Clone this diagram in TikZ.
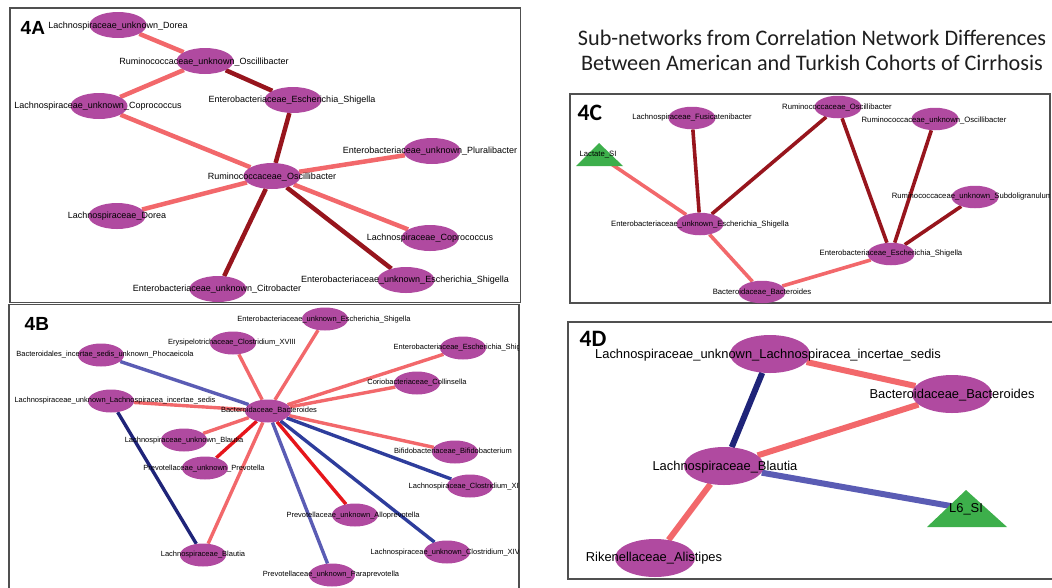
\documentclass[tikz,border=0pt]{standalone}
\usepackage{fontspec}
\setmainfont{Liberation Sans}
\newfontfamily\calibfont{Carlito}
\usetikzlibrary{shapes.geometric}
\pgfdeclarelayer{edges}
\pgfdeclarelayer{labels}
\pgfsetlayers{edges,main,labels}
\definecolor{nodepurple}{HTML}{B04AA0}
\definecolor{lightred}{HTML}{F2686B}
\definecolor{darkred}{HTML}{97151D}
\definecolor{brightred}{HTML}{E6161B}
\definecolor{navy}{HTML}{1F2479}
\definecolor{blueE}{HTML}{2E3D9C}
\definecolor{lavender}{HTML}{5A5CB4}
\definecolor{trigreen}{HTML}{3DAF4B}
\definecolor{framegray}{HTML}{505050}
\definecolor{titlegray}{HTML}{1E1E1E}
\begin{document}
\begin{tikzpicture}[x=1pt,y=-1pt,
  elA/.style={ellipse,fill=nodepurple,inner sep=0pt,minimum width=57pt,minimum height=26pt},
  elB/.style={ellipse,fill=nodepurple,inner sep=0pt,minimum width=46pt,minimum height=23pt},
  elC/.style={ellipse,fill=nodepurple,inner sep=0pt,minimum width=47pt,minimum height=22.5pt},
  elD/.style={ellipse,fill=nodepurple,inner sep=0pt,minimum width=80pt,minimum height=38pt},
  lbA/.style={font=\fontsize{9}{9}\selectfont,text=black,inner sep=0pt},
  lbB/.style={font=\fontsize{7.5}{7.5}\selectfont,text=black,inner sep=0pt},
  lbC/.style={font=\fontsize{7.7}{7.7}\selectfont,text=black,inner sep=0pt},
  lbD/.style={font=\fontsize{12.9}{12.9}\selectfont,text=black,inner sep=0pt},
  lbtri/.style={inner sep=1pt},
  eLR/.style={draw=lightred},
  eDR/.style={draw=darkred},
  eBR/.style={draw=brightred},
  eNV/.style={draw=navy},
  eBL/.style={draw=blueE},
  eLV/.style={draw=lavender},
  panel/.style={draw=framegray,line width=1.3pt},
  tagAB/.style={font=\bfseries\fontsize{19}{19}\selectfont,inner sep=0pt,anchor=west},
  tagCD/.style={font=\calibfont\bfseries\fontsize{23.5}{23.5}\selectfont,inner sep=0pt,anchor=west}
]
\useasboundingbox (0,0) rectangle (1052,587);

% ---------- frames ----------
\draw[panel] (10,8) rectangle (520.5,302.5);
\draw[panel] (9,592) -- (9,304.5) -- (519,304.5) -- (519,592);
\draw[panel] (570,94) rectangle (1050,303);
\draw[panel] (1056,322) -- (568,322) -- (568,579) -- (1056,579);

% ---------- title ----------
\node[font=\calibfont\fontsize{22.2}{25.5}\selectfont,align=center,text=titlegray] (title) at (812,50.5)
  {Sub-networks from Correlation Network Differences\\Between American and Turkish Cohorts of Cirrhosis};

% ---------- panel tags ----------
\node[tagAB] (tA) at (20.5,28) {4A};
\node[tagAB] (tB) at (24.5,324) {4B};
\node[tagCD] (tC) at (577.5,113) {4C};
\node[tagCD] (tD) at (579.5,339) {4D};

% ================= 4A =================
\node[elA] (a1) at (118,25) {};
\node[elA] (a2) at (205,61) {};
\node[elA] (a3) at (99,106) {};
\node[elA] (a4) at (293,100) {};
\node[elA] (a5) at (432,151) {};
\node[elA] (a6) at (272,176) {};
\node[elA] (a7) at (117,216) {};
\node[elA] (a8) at (218,289) {};
\node[elA] (a9) at (430,238) {};
\node[elA] (a10) at (406,280) {};
\begin{pgfonlayer}{edges}
\begin{scope}[line width=4.5pt]
\draw[eLR] (a1) -- (a2);
\draw[eLR] (a2) -- (a3);
\draw[eDR] (a2) -- (a4);
\draw[eLR] (a3) -- (a6);
\draw[eDR] (a4) -- (a6);
\draw[eDR] (a6) -- (a8);
\draw[eLR] (a6) -- (a5);
\draw[eLR] (a6) -- (a7);
\draw[eLR] (a6) -- (a9);
\draw[eDR] (a6) -- (a10);
\end{scope}
\end{pgfonlayer}
\begin{pgfonlayer}{labels}
\node[lbA] at (118,26) {Lachnospiraceae\_unknown\_Dorea};
\node[lbA] at (204,62) {Ruminococcaceae\_unknown\_Oscillibacter};
\node[lbA] at (98,106) {Lachnospiraceae\_unknown\_Coprococcus};
\node[lbA] at (292,100) {Enterobacteriaceae\_Escherichia\_Shigella};
\node[lbA] at (430,151) {Enterobacteriaceae\_unknown\_Pluralibacter};
\node[lbA] at (272,177) {Ruminococcaceae\_Oscillibacter};
\node[lbA] at (117,216) {Lachnospiraceae\_Dorea};
\node[lbA] at (217,289) {Enterobacteriaceae\_unknown\_Citrobacter};
\node[lbA] at (430,238) {Lachnospiraceae\_Coprococcus};
\node[lbA] at (405,280) {Enterobacteriaceae\_unknown\_Escherichia\_Shigella};
\end{pgfonlayer}

% ================= 4B =================
\node[elB] (b0) at (268,411) {};
\node[elB] (b1) at (325,319) {};
\node[elB] (b2) at (233,343) {};
\node[elB] (b3) at (463,348) {};
\node[elB] (b4) at (417,383) {};
\node[elB] (b5) at (101,355) {};
\node[elB] (b6) at (111,401) {};
\node[elB] (b7) at (184,440) {};
\node[elB] (b8) at (205,468) {};
\node[elB] (b9) at (203,555) {};
\node[elB] (b10) at (455,452) {};
\node[elB] (b11) at (470,486) {};
\node[elB] (b12) at (355,515) {};
\node[elB] (b13) at (447,552) {};
\node[elB] (b14) at (332,575) {};
\begin{pgfonlayer}{edges}
\begin{scope}[line width=3.4pt]
\draw[eLR] (b0) -- (b1);
\draw[eLR] (b0) -- (b2);
\draw[eLR] (b0) -- (b3);
\draw[eLR] (b0) -- (b4);
\draw[eLV] (b0) -- (b5);
\draw[eLR] (b0) -- (b6);
\draw[eLR] (b0) -- (b7);
\draw[eBR] (b0) -- (b8);
\draw[eLR] (b0) -- (b9);
\draw[eNV] (b6) -- (b9);
\draw[eLR] (b0) -- (b10);
\draw[eBL] (b0) -- (b11);
\draw[eBR] (b0) -- (b12);
\draw[eBL] (b0) -- (b13);
\draw[eLV] (b0) -- (b14);
\end{scope}
\end{pgfonlayer}
\begin{pgfonlayer}{labels}
\begin{scope}
\clip (9,304.5) rectangle (518.3,587);
\node[lbB] at (269,411) {Bacteroidaceae\_Bacteroides};
\node[lbB] at (324,320) {Enterobacteriaceae\_unknown\_Escherichia\_Shigella};
\node[lbB] at (232,343) {Erysipelotrichaceae\_Clostridium\_XVIII};
\node[lbB] at (463,348) {Enterobacteriaceae\_Escherichia\_Shigella};
\node[lbB] at (417,383) {Coriobacteriaceae\_Collinsella};
\node[lbB] at (105,355) {Bacteroidales\_incertae\_sedis\_unknown\_Phocaeicola};
\node[lbB] at (115,401) {Lachnospiraceae\_unknown\_Lachnospiracea\_incertae\_sedis};
\node[lbB] at (184,441) {Lachnospiraceae\_unknown\_Blautia};
\node[lbB] at (204,469) {Prevotellaceae\_unknown\_Prevotella};
\node[lbB] at (203,555) {Lachnospiraceae\_Blautia};
\node[lbB] at (453,452) {Bifidobacteriaceae\_Bifidobacterium};
\node[lbB] at (468,487) {Lachnospiraceae\_Clostridium\_XIVa};
\node[lbB] at (353,516) {Prevotellaceae\_unknown\_Alloprevotella};
\node[lbB] at (447,553) {Lachnospiraceae\_unknown\_Clostridium\_XIVa};
\node[lbB] at (331,575) {Prevotellaceae\_unknown\_Paraprevotella};
\end{scope}
\end{pgfonlayer}

% ================= 4C =================
\fill[trigreen] (599,143) -- (623,166) -- (576,166) -- cycle;
\node[lbtri] (c1) at (598,155) {};
\node[elC] (c2) at (692,118) {};
\node[elC] (c3) at (838,107) {};
\node[elC] (c4) at (935,119) {};
\node[elC] (c5) at (975,197) {};
\node[elC] (c6) at (700,224) {};
\node[elC] (c7) at (891,254) {};
\node[elC] (c8) at (762,292) {};
\begin{pgfonlayer}{edges}
\begin{scope}[line width=3.6pt]
\draw[eLR] (c1) -- (c6);
\draw[eDR] (c2) -- (c6);
\draw[eDR] (c3) -- (c6);
\draw[eLR] (c6) -- (c8);
\draw[eLR] (c8) -- (c7);
\draw[eDR] (c3) -- (c7);
\draw[eDR] (c4) -- (c7);
\draw[eDR] (c5) -- (c7);
\end{scope}
\end{pgfonlayer}
\begin{pgfonlayer}{labels}
\begin{scope}
\clip (570,94) rectangle (1049.3,303);
\node[lbC] at (598,155) {Lactate\_SI};
\node[lbC] at (692,118) {Lachnospiraceae\_Fusicatenibacter};
\node[lbC] at (837,107) {Ruminococcaceae\_Oscillibacter};
\node[lbC] at (934,120) {Ruminococcaceae\_unknown\_Oscillibacter};
\node[lbC] at (972,197) {Ruminococcaceae\_unknown\_Subdoligranulum};
\node[lbC] at (700,225) {Enterobacteriaceae\_unknown\_Escherichia\_Shigella};
\node[lbC] at (891,254) {Enterobacteriaceae\_Escherichia\_Shigella};
\node[lbC] at (762,292) {Bacteroidaceae\_Bacteroides};
\end{scope}
\end{pgfonlayer}

% ================= 4D =================
\node[elD] (d1) at (770,354) {};
\node[elD] (d2) at (952,394) {};
\node[elD] (d3) at (724,466) {};
\fill[trigreen] (966,490) -- (1007,527) -- (927,527) -- cycle;
\node[lbtri] (d4) at (962,508) {};
\node[elD] (d5) at (655,558) {};
\begin{pgfonlayer}{edges}
\begin{scope}[line width=6pt]
\draw[eLR] (d1) -- (d2);
\draw[eNV] (d1) -- (d3);
\draw[eLR] (d2) -- (d3);
\draw[eLV] (d3) -- (d4);
\draw[eLR] (d3) -- (d5);
\end{scope}
\end{pgfonlayer}
\begin{pgfonlayer}{labels}
\node[lbD] at (768,355) {Lachnospiraceae\_unknown\_Lachnospiracea\_incertae\_sedis};
\node[lbD] at (952,395) {Bacteroidaceae\_Bacteroides};
\node[lbD] at (725,467) {Lachnospiraceae\_Blautia};
\node[lbD] at (966,509) {L6\_SI};
\node[lbD] at (654,558) {Rikenellaceae\_Alistipes};
\end{pgfonlayer}
\end{tikzpicture}
\end{document}
